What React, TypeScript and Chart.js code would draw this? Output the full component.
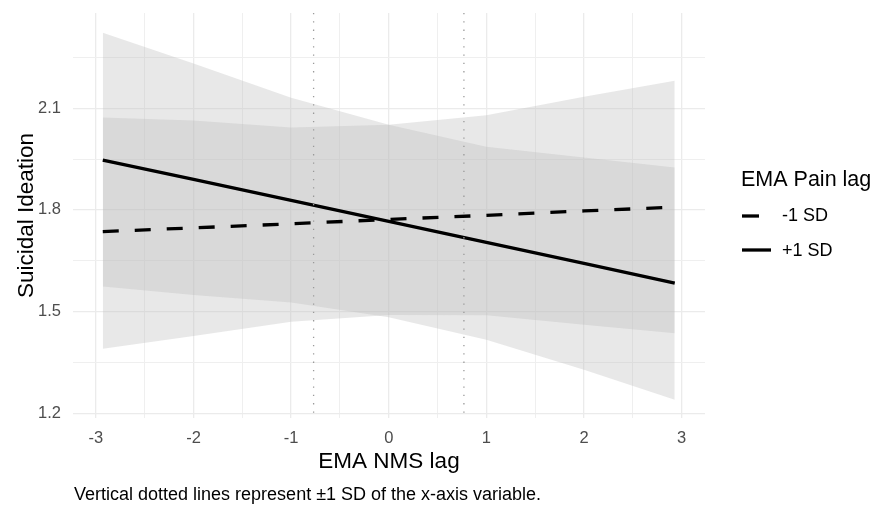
import { useEffect, useRef } from "react";
import { Chart, registerables } from "chart.js";
Chart.register(...registerables);

const xValues = [-2.93, -2, -1, 0, 1, 2, 2.93];
const plusLine = [1.947, 1.89, 1.828, 1.766, 1.704, 1.642, 1.584];
const minusLine = [1.736, 1.747, 1.759, 1.772, 1.784, 1.797, 1.808];
const plusLower = [1.574, 1.549, 1.527, 1.483, 1.417, 1.328, 1.24];
const plusUpper = [2.323, 2.232, 2.131, 2.051, 1.986, 1.955, 1.925];
const minusLower = [1.39, 1.428, 1.47, 1.49, 1.489, 1.461, 1.436];
const minusUpper = [2.073, 2.064, 2.043, 2.051, 2.079, 2.134, 2.181];
const sdMarks = [-0.77, 0.77];
const xMajor = [-3, -2, -1, 0, 1, 2, 3];
const xMinor = [-2.5, -1.5, -0.5, 0.5, 1.5, 2.5];
const yMajor = [1.2, 1.5, 1.8, 2.1];
const yMinor = [1.35, 1.65, 1.95, 2.25];
const legendLabels = ["-1 SD", "+1 SD"];

const FONT = "'Liberation Sans', Arial, sans-serif";
const BAND = "rgba(190,190,190,0.35)";

const pts = (ys: number[]) => xValues.map((x, i) => ({ x, y: ys[i] }));
const isMajor = (v: number, list: number[]) => list.some((m) => Math.abs(m - v) < 1e-9);

export default function App() {
  const ref = useRef<HTMLCanvasElement | null>(null);
  useEffect(() => {
    if (!ref.current) return;
    const overlay = {
      id: "overlay",
      afterDatasetsDraw(chart: any) {
        const { ctx, chartArea, scales } = chart;
        ctx.save();
        ctx.strokeStyle = "#9a9a9a";
        ctx.lineWidth = 1.3;
        ctx.setLineDash([1.3, 7]);
        sdMarks.forEach((v) => {
          const px = scales.x.getPixelForValue(v);
          ctx.beginPath();
          ctx.moveTo(px, chartArea.top);
          ctx.lineTo(px, chartArea.bottom);
          ctx.stroke();
        });
        ctx.restore();
      },
      afterDraw(chart: any) {
        const { ctx, chartArea } = chart;
        ctx.save();
        ctx.fillStyle = "#000";
        ctx.textBaseline = "middle";
        ctx.save();
        ctx.translate(27, (chartArea.top + chartArea.bottom) / 2);
        ctx.rotate(-Math.PI / 2);
        ctx.textAlign = "center";
        ctx.font = `22.5px ${FONT}`;
        ctx.fillText("Suicidal Ideation", 0, 0);
        ctx.restore();
        ctx.textAlign = "center";
        ctx.font = `22.5px ${FONT}`;
        ctx.fillText("EMA NMS lag", (chartArea.left + chartArea.right) / 2, 462);
        ctx.textAlign = "left";
        ctx.font = `18px ${FONT}`;
        ctx.fillText("Vertical dotted lines represent \u00b11 SD of the x-axis variable.", 74, 495);
        ctx.font = `21.5px ${FONT}`;
        ctx.fillText("EMA Pain lag", 741, 180);
        ctx.font = `18px ${FONT}`;
        ctx.fillText(legendLabels[0], 782, 216);
        ctx.fillText(legendLabels[1], 782, 251);
        ctx.strokeStyle = "#000";
        ctx.lineWidth = 3.3;
        ctx.beginPath();
        ctx.moveTo(742, 216);
        ctx.lineTo(759, 216);
        ctx.stroke();
        ctx.beginPath();
        ctx.moveTo(742, 250);
        ctx.lineTo(771, 250);
        ctx.stroke();
        ctx.restore();
      },
    };
    const gridColor = (c: any, majors: number[]) =>
      isMajor(c.tick.value, majors) ? "#ebebeb" : "#efefef";
    const zeroPad = (s: any) => {
      s.paddingTop = 0;
      s.paddingBottom = 0;
      s.paddingLeft = 0;
      s.paddingRight = 0;
    };
    const chart = new Chart(ref.current, {
      type: "line",
      data: {
        datasets: [
          { data: pts(plusLine), borderColor: "#000", borderWidth: 3.3, pointRadius: 0, fill: false, order: 0 },
          { data: pts(minusLine), borderColor: "#000", borderWidth: 3.3, borderDash: [16, 16], pointRadius: 0, fill: false, order: 0 },
          { data: pts(plusLower), borderWidth: 0, pointRadius: 0, fill: false, order: 1 },
          { data: pts(plusUpper), borderWidth: 0, pointRadius: 0, fill: "-1", backgroundColor: BAND, order: 1 },
          { data: pts(minusLower), borderWidth: 0, pointRadius: 0, fill: false, order: 1 },
          { data: pts(minusUpper), borderWidth: 0, pointRadius: 0, fill: "-1", backgroundColor: BAND, order: 1 },
        ],
      },
      options: {
        animation: false,
        responsive: false,
        devicePixelRatio: 1,
        layout: { padding: { left: 0, top: 13, right: 170, bottom: 0 } },
        plugins: { legend: { display: false }, tooltip: { enabled: false } },
        scales: {
          x: {
            type: "linear",
            min: -3.235,
            max: 3.24,
            afterBuildTicks: (s: any) => {
              s.ticks = [...xMajor, ...xMinor].sort((a, b) => a - b).map((v) => ({ value: v }));
            },
            afterFit: (s: any) => {
              s.height = 88;
              zeroPad(s);
            },
            grid: {
              color: (c: any) => gridColor(c, xMajor),
              lineWidth: (c: any) => (isMajor(c.tick.value, xMajor) ? 1.3 : 1),
              drawTicks: false,
            },
            border: { display: false },
            ticks: {
              padding: 11,
              autoSkip: false,
              maxRotation: 0,
              color: "#4d4d4d",
              font: { family: FONT, size: 16.5 },
              callback: (v: any) => (isMajor(Number(v), xMajor) ? String(Math.round(Number(v))) : ""),
            },
          },
          y: {
            type: "linear",
            min: 1.186,
            max: 2.381,
            afterBuildTicks: (s: any) => {
              s.ticks = [...yMajor, ...yMinor].sort((a, b) => a - b).map((v) => ({ value: v }));
            },
            afterFit: (s: any) => {
              s.width = 73;
              zeroPad(s);
            },
            grid: {
              color: (c: any) => gridColor(c, yMajor),
              lineWidth: (c: any) => (isMajor(c.tick.value, yMajor) ? 1.3 : 1),
              drawTicks: false,
            },
            border: { display: false },
            ticks: {
              padding: 12,
              autoSkip: false,
              color: "#4d4d4d",
              font: { family: FONT, size: 16.5 },
              callback: (v: any) => (isMajor(Number(v), yMajor) ? Number(v).toFixed(1) : ""),
            },
          },
        },
      },
      plugins: [overlay],
    } as any);
    return () => chart.destroy();
  }, []);
  return (
    <div style={{ position: "fixed", left: 0, top: 0, width: 875, height: 506, background: "#fff" }}>
      <canvas ref={ref} width={875} height={506} style={{ width: 875, height: 506, display: "block" }} />
    </div>
  );
}
